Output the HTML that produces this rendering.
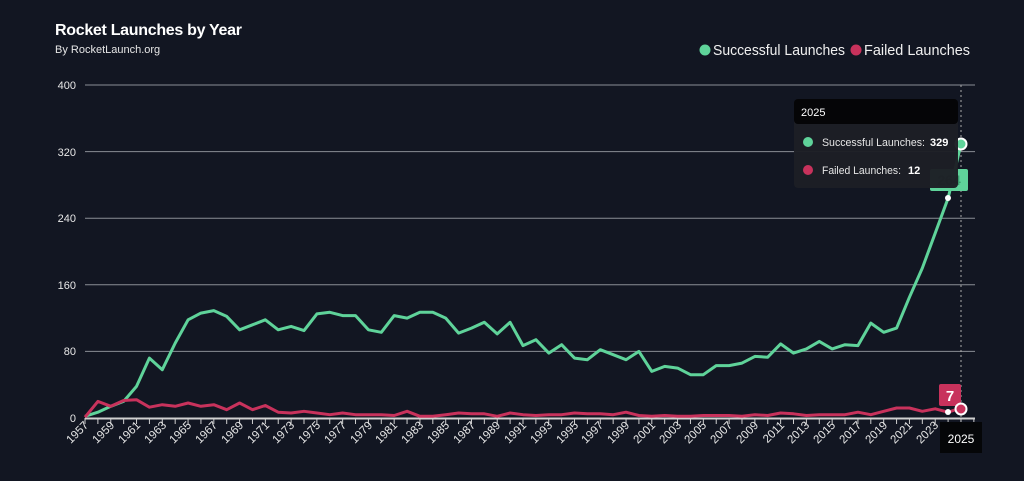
<!DOCTYPE html>
<html><head><meta charset="utf-8"><style>
html,body{margin:0;padding:0;background:#121622;}
body{width:1024px;height:481px;overflow:hidden;position:relative;font-family:"Liberation Sans",sans-serif;}
.t{position:absolute;left:55px;top:22px;color:#fff;font-weight:bold;font-size:16px;letter-spacing:-0.3px}
.s{position:absolute;left:55px;top:44px;color:#e6e6e6;font-size:11px}
</style></head><body>
<div class="t">Rocket Launches by Year</div>
<div class="s">By RocketLaunch.org</div>
<svg width="1024" height="481" style="position:absolute;left:0;top:0" font-family="Liberation Sans, sans-serif">
<g stroke="#8a8d95" stroke-width="1">
<line x1="85" y1="85" x2="975" y2="85"/><line x1="85" y1="151.6" x2="975" y2="151.6"/>
<line x1="85" y1="218.2" x2="975" y2="218.2"/><line x1="85" y1="284.8" x2="975" y2="284.8"/>
<line x1="85" y1="351.4" x2="975" y2="351.4"/>
</g>
<line x1="85" y1="418.5" x2="975" y2="418.5" stroke="#d0d0d0" stroke-width="2"/>
<g id="ticks" stroke="#d0d0d0" stroke-width="1"></g>
<g fill="#e8e8e8" font-size="11" text-anchor="end">
<text x="76" y="89">400</text><text x="76" y="156">320</text><text x="76" y="222">240</text>
<text x="76" y="289">160</text><text x="76" y="355">80</text><text x="76" y="422">0</text>
</g>
<g fill="#e8e8e8" font-size="11.5" text-anchor="end">
<text transform="translate(89,426) rotate(-45)">1957</text>
<text transform="translate(115,426) rotate(-45)">1959</text>
<text transform="translate(141,426) rotate(-45)">1961</text>
<text transform="translate(167,426) rotate(-45)">1963</text>
<text transform="translate(192,426) rotate(-45)">1965</text>
<text transform="translate(218,426) rotate(-45)">1967</text>
<text transform="translate(244,426) rotate(-45)">1969</text>
<text transform="translate(270,426) rotate(-45)">1971</text>
<text transform="translate(295,426) rotate(-45)">1973</text>
<text transform="translate(321,426) rotate(-45)">1975</text>
<text transform="translate(347,426) rotate(-45)">1977</text>
<text transform="translate(373,426) rotate(-45)">1979</text>
<text transform="translate(398,426) rotate(-45)">1981</text>
<text transform="translate(424,426) rotate(-45)">1983</text>
<text transform="translate(450,426) rotate(-45)">1985</text>
<text transform="translate(476,426) rotate(-45)">1987</text>
<text transform="translate(501,426) rotate(-45)">1989</text>
<text transform="translate(527,426) rotate(-45)">1991</text>
<text transform="translate(553,426) rotate(-45)">1993</text>
<text transform="translate(579,426) rotate(-45)">1995</text>
<text transform="translate(604,426) rotate(-45)">1997</text>
<text transform="translate(630,426) rotate(-45)">1999</text>
<text transform="translate(656,426) rotate(-45)">2001</text>
<text transform="translate(682,426) rotate(-45)">2003</text>
<text transform="translate(707,426) rotate(-45)">2005</text>
<text transform="translate(733,426) rotate(-45)">2007</text>
<text transform="translate(759,426) rotate(-45)">2009</text>
<text transform="translate(785,426) rotate(-45)">2011</text>
<text transform="translate(810,426) rotate(-45)">2013</text>
<text transform="translate(836,426) rotate(-45)">2015</text>
<text transform="translate(862,426) rotate(-45)">2017</text>
<text transform="translate(888,426) rotate(-45)">2019</text>
<text transform="translate(913,426) rotate(-45)">2021</text>
<text transform="translate(939,426) rotate(-45)">2023</text>
</g>
<line x1="961" y1="85" x2="961" y2="418" stroke="#aaa" stroke-dasharray="2,3"/>
<polyline id="succ" fill="none" stroke="#5fd39a" stroke-width="3" stroke-linejoin="round"/>
<polyline id="fail" fill="none" stroke="#c8325c" stroke-width="3" stroke-linejoin="round"/>
<rect x="930" y="169" width="38" height="22" rx="2" fill="#5fd39a"/>
<text x="949" y="185" font-size="14" font-weight="bold" fill="#3a9a6c" text-anchor="middle">264</text>
<circle cx="948" cy="198" r="3" fill="#fff"/>
<circle cx="961" cy="144" r="5.5" fill="#5fd39a" stroke="#fff" stroke-width="2"/>
<rect x="939" y="384" width="22" height="22" rx="2" fill="#c8325c"/>
<text x="950" y="401" font-size="15" font-weight="bold" fill="#fff" text-anchor="middle">7</text>
<circle cx="948" cy="412" r="3" fill="#fff"/>
<circle cx="961" cy="409" r="5.5" fill="#c8325c" stroke="#fff" stroke-width="2"/>
<rect x="940" y="422" width="42" height="31" fill="#050608"/>
<text x="961" y="443" font-size="12" fill="#fff" text-anchor="middle">2025</text>
<rect x="794" y="99" width="164" height="89" rx="4" fill="#1d1f25" opacity="0.97"/>
<rect x="794" y="99" width="164" height="25" rx="4" fill="#050507"/>
<text x="801" y="116" font-size="11" fill="#fff">2025</text>
<circle cx="808" cy="142" r="5" fill="#5fd39a"/>
<text x="822" y="146" font-size="11" fill="#e6e6e6" textLength="103" lengthAdjust="spacingAndGlyphs">Successful Launches:</text>
<text x="930" y="146" font-size="11" fill="#fff" font-weight="bold">329</text>
<circle cx="808" cy="170" r="5" fill="#c8325c"/>
<text x="822" y="174" font-size="11" fill="#e6e6e6" textLength="79" lengthAdjust="spacingAndGlyphs">Failed Launches:</text>
<text x="908" y="174" font-size="11" fill="#fff" font-weight="bold">12</text>
<circle cx="705" cy="50" r="5.5" fill="#5fd39a"/>
<text x="713" y="55" font-size="14.5" fill="#f0f0f0" textLength="132" lengthAdjust="spacingAndGlyphs">Successful Launches</text>
<circle cx="856" cy="50" r="5.5" fill="#c8325c"/>
<text x="864" y="55" font-size="14.5" fill="#f0f0f0" textLength="106" lengthAdjust="spacingAndGlyphs">Failed Launches</text>
</svg>
<script>
var S=[2,7,14,20,38,72,58,90,118,126,129,122,106,112,118,106,110,105,125,127,123,123,106,103,123,120,127,127,120,102,108,115,101,115,87,94,78,88,72,70,82,76,70,80,56,62,60,52,52,63,63,66,74,73,89,78,83,92,83,88,87,114,103,108,145,180,222,264,329];
var F=[1,20,14,21,22,13,16,14,18,14,16,10,18,10,15,7,6,8,6,4,6,4,4,4,3,8,2,2,4,6,5,5,2,6,4,3,4,4,6,5,5,4,7,3,2,3,2,2,3,3,3,2,4,3,6,5,3,4,4,4,7,4,8,12,12,8,11,7,12];
function pts(a){return a.map(function(v,i){return (85+i*12.882).toFixed(1)+","+(418-v*0.8325).toFixed(1)}).join(" ")}
document.getElementById("succ").setAttribute("points",pts(S));
document.getElementById("fail").setAttribute("points",pts(F));
var g=document.getElementById("ticks"),h="";
for(var i=0;i<70;i++){var x=85+i*12.882;h+='<line x1="'+x+'" y1="418" x2="'+x+'" y2="424"/>';}
g.innerHTML=h;
</script>
</body></html>
